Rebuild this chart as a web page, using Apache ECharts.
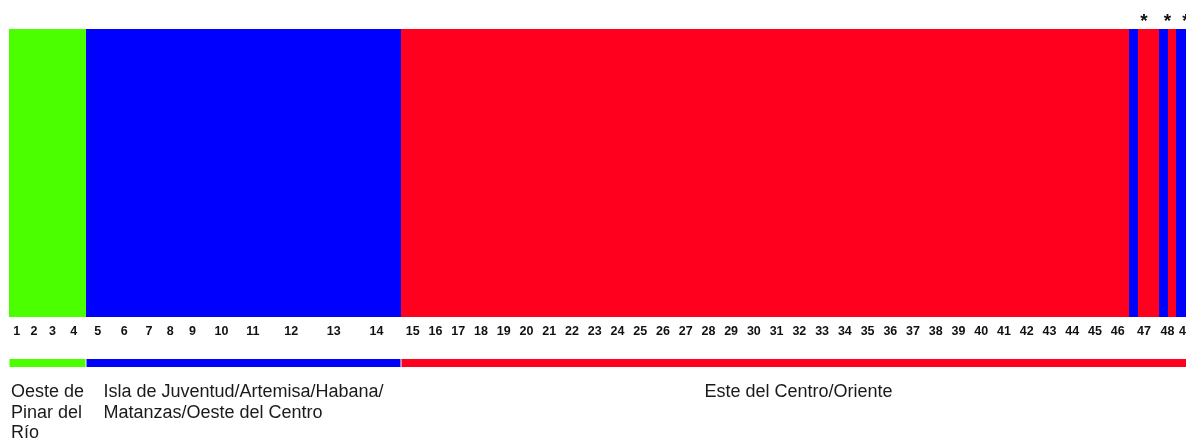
<!DOCTYPE html>
<html>
<head>
<meta charset="utf-8">
<script src="https://cdn.jsdelivr.net/npm/echarts@6/dist/echarts.min.js"></script>
<style>
  html, body { margin: 0; padding: 0; background: #ffffff; }
  #chart { width: 1186px; height: 442px; }
</style>
</head>
<body>
<div id="chart"></div>
<script>
// Ancestry clusters (K = 3) and their colours
const clusterNames = ['K1', 'K2', 'K3'];
const clusterColors = ['#4CFF00', '#0000FF', '#FF001E'];

// Populations, in plotting order
const popLabels = [
  '1','2','3','4','5','6','7','8','9','10','11','12','13','14','15','16','17','18','19','20',
  '21','22','23','24','25','26','27','28','29','30','31','32','33','34','35','36','37','38','39','40',
  '41','42','43','44','45','46','47','48','49'
];
// Number of individuals per population
const popSizes = [
  11, 13, 13, 17,
  17, 20, 15, 15, 16, 25, 19, 35, 25, 35,
  16, 16, 16, 16, 16, 16, 16, 16, 16, 16, 16, 16, 16, 16, 16, 16,
  16, 16, 16, 16, 16, 16, 16, 16, 16, 16, 16, 16, 16, 16, 16, 16,
  21, 12, 14
];
// Cluster each population is assigned to (-1 = admixed, see popRuns)
const popCluster = [
  0, 0, 0, 0,
  1, 1, 1, 1, 1, 1, 1, 1, 1, 1,
  2, 2, 2, 2, 2, 2, 2, 2, 2, 2, 2, 2, 2, 2, 2, 2,
  2, 2, 2, 2, 2, 2, 2, 2, 2, 2, 2, 2, 2, 2, 2, 2,
  -1, -1, 1
];
// Individuals of admixed populations, as runs of [cluster, count]
const popRuns = {
  '47': [[1, 6], [2, 15]],
  '48': [[1, 6], [2, 6]]
};
// Populations flagged with an asterisk
const flaggedPops = ['47', '48', '49'];

// Geographic regions under the plot
const regionNames = [
  'Oeste de\nPinar del\nRío',
  'Isla de Juventud/Artemisa/Habana/\nMatanzas/Oeste del Centro',
  'Este del Centro/Oriente'
];
const regionFirstPop = ['1', '5', '15'];
const regionLastPop = ['4', '14', '49'];
const regionColors = ['#4CFF00', '#0000FF', '#FF001E'];

// ---- derived tables ----
const popStart = {}, popEnd = {}, popCenter = [];
const barData = [];
let cursor = 0;
popLabels.forEach((lab, i) => {
  popStart[lab] = cursor;
  const runs = popCluster[i] >= 0 ? [[popCluster[i], popSizes[i]]] : popRuns[lab];
  let c = cursor;
  runs.forEach(([k, n]) => { barData.push([c, c + n, k]); c += n; });
  cursor += popSizes[i];
  popEnd[lab] = cursor;
  popCenter.push((popStart[lab] + popEnd[lab]) / 2);
});
const labelAt = new Map(popCenter.map((v, i) => [v, popLabels[i]]));
const regionData = regionNames.map((n, i) => [popStart[regionFirstPop[i]], popEnd[regionLastPop[i]], i]);
const flagData = flaggedPops.map(p => [(popStart[p] + popEnd[p]) / 2]);

const TEXT_FONT = '"Liberation Sans", Arial, sans-serif';
const measureCtx = document.createElement('canvas').getContext('2d');
measureCtx.font = '18px ' + TEXT_FONT;
function blockWidth(t) {
  return Math.max(...t.split('\n').map(l => measureCtx.measureText(l).width));
}

const chart = echarts.init(document.getElementById('chart'), null, { renderer: 'canvas' });

chart.setOption({
  animation: false,
  backgroundColor: '#ffffff',
  grid: { left: 9, right: 0, top: 29, bottom: 125, containLabel: false, outerBoundsMode: 'none' },
  xAxis: {
    type: 'value',
    min: 0,
    max: 828,
    axisLine: { show: false },
    axisTick: { show: false },
    splitLine: { show: false },
    axisLabel: {
      customValues: popCenter,
      formatter: v => labelAt.get(v) || '',
      margin: 8,
      fontFamily: TEXT_FONT,
      fontWeight: 'bold',
      fontSize: 12.5,
      color: '#111111'
    }
  },
  yAxis: {
    type: 'value', min: 0, max: 1,
    show: false
  },
  series: [
    {
      name: 'membership',
      type: 'custom',
      clip: true,
      data: barData,
      renderItem: (params, api) => {
        const a = api.coord([api.value(0), 1]);
        const b = api.coord([api.value(1), 0]);
        const x0 = Math.round(a[0]), x1 = Math.round(b[0]);
        return {
          type: 'rect',
          shape: { x: x0, y: a[1], width: x1 - x0, height: b[1] - a[1] },
          style: { fill: clusterColors[api.value(2)] }
        };
      }
    },
    {
      name: 'flags',
      type: 'custom',
      clip: false,
      data: flagData,
      renderItem: (params, api) => {
        const p = api.coord([api.value(0), 1]);
        return {
          type: 'text',
          style: {
            x: p[0], y: p[1] - 7,
            text: '*',
            align: 'center', verticalAlign: 'middle',
            font: 'bold 19px ' + TEXT_FONT,
            fill: '#111111'
          }
        };
      }
    },
    {
      name: 'regions',
      type: 'custom',
      clip: false,
      data: regionData,
      renderItem: (params, api) => {
        const a = api.coord([api.value(0), 0]);
        const b = api.coord([api.value(1), 0]);
        const i = api.value(2);
        const x0 = Math.round(a[0]) + 0.5, x1 = Math.round(b[0]) - 0.5;
        const name = regionNames[i];
        const w = blockWidth(name);
        const cx = (x0 + x1) / 2;
        return {
          type: 'group',
          children: [
            {
              type: 'rect',
              shape: { x: x0, y: a[1] + 42, width: x1 - x0, height: 8 },
              style: { fill: regionColors[i] }
            },
            {
              type: 'text',
              style: {
                x: cx - w / 2, y: a[1] + 65,
                text: name,
                align: 'left', verticalAlign: 'top',
                font: '18px ' + TEXT_FONT,
                lineHeight: 20.5,
                fill: '#1a1a1a'
              }
            }
          ]
        };
      }
    }
  ]
});
</script>
</body>
</html>
